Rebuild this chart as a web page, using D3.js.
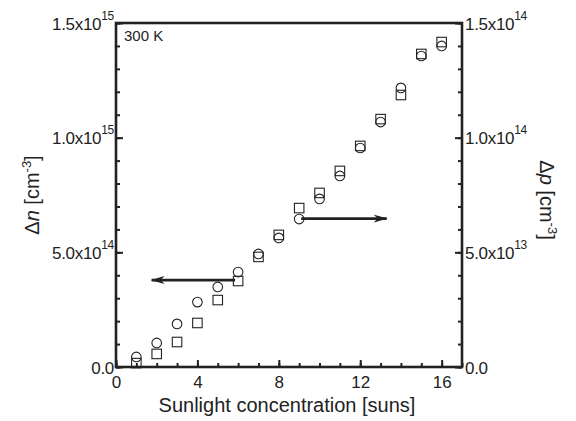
<!DOCTYPE html>
<html><head><meta charset="utf-8">
<script src="https://cdn.jsdelivr.net/npm/d3@7"></script>
<style>
body{margin:0;background:#fff;}
svg text{font-family:"Liberation Sans",Arial,sans-serif;fill:#222;}
</style></head>
<body><svg id="c" width="576" height="421"></svg>
<script>
const suns = [1,2,3,4,5,6,7,8,9,10,11,12,13,14,15,16];
const deltaN = [0.044e15,0.105e15,0.188e15,0.283e15,0.349e15,0.414e15,0.493e15,0.563e15,0.645e15,0.733e15,0.833e15,0.955e15,1.068e15,1.217e15,1.356e15,1.400e15];
const deltaP = [0.017e14,0.057e14,0.109e14,0.192e14,0.292e14,0.375e14,0.480e14,0.576e14,0.693e14,0.759e14,0.855e14,0.964e14,1.081e14,1.186e14,1.365e14,1.417e14];
const xTicks = [0,4,8,12,16];
const leftTicks = [0,0.5e15,1.0e15,1.5e15];
const rightTicks = [0,0.5e14,1.0e14,1.5e14];
const arrowLeft = {y:0.379e15, x1:5.85, x2:1.75};
const arrowRight = {y:0.647e15, x1:9.1, x2:13.3};

const svg = d3.select("#c");
const L=116, R=462, T=23, B=367;
const x = d3.scaleLinear().domain([0,17]).range([L,R]);
const yL = d3.scaleLinear().domain([0,1.5e15]).range([B,T]);
const yR = d3.scaleLinear().domain([0,1.5e14]).range([B,T]);
const ink = "#222";
const FF = "Liberation Sans, Arial, sans-serif";

svg.append("rect").attr("x",L).attr("y",T).attr("width",R-L).attr("height",B-T)
  .attr("fill","none").attr("stroke",ink).attr("stroke-width",2.6);

function sci(v){
  if(v===0) return {m:"0.0",e:null};
  const e = Math.floor(Math.log10(v)+1e-9);
  return {m:(v/Math.pow(10,e)).toFixed(1)+"x10", e:String(e)};
}
function styleAxis(g){
  g.select(".domain").remove();
  g.selectAll(".tick line").attr("stroke",ink).attr("stroke-width",2);
}
const xMinor = d3.range(0,18,1);
svg.append("g").attr("transform",`translate(0,${B})`)
  .call(d3.axisBottom(x).tickValues(xMinor).tickSize(-4).tickFormat(""))
  .call(styleAxis);
const gx = svg.append("g").attr("transform",`translate(0,${B})`)
  .call(d3.axisBottom(x).tickValues(xTicks).tickSize(-7).tickPadding(13))
  .call(styleAxis);
gx.selectAll(".tick text").attr("font-size",17).attr("fill",ink).attr("dy","0.45em")
  .attr("font-family",FF);

const yMinorL = d3.range(0,1.5e15+1,0.1e15);
svg.append("g").attr("transform",`translate(${L},0)`)
  .call(d3.axisLeft(yL).tickValues(yMinorL).tickSize(-4).tickFormat(""))
  .call(styleAxis);
const gl = svg.append("g").attr("transform",`translate(${L},0)`)
  .call(d3.axisLeft(yL).tickValues(leftTicks).tickSize(-7).tickFormat(""))
  .call(styleAxis);
gl.selectAll(".tick").each(function(d){
  const s = sci(d);
  const t = d3.select(this).append("text").attr("x",-2).attr("y",6)
    .attr("text-anchor","end").attr("font-size",17).attr("fill",ink)
    .attr("font-family",FF).attr("letter-spacing",-0.3);
  t.append("tspan").text(s.m);
  if(s.e) t.append("tspan").attr("font-size",12).attr("dy",-10).text(s.e);
});

const yMinorR = d3.range(0,1.5e14+1,0.1e14);
svg.append("g").attr("transform",`translate(${R},0)`)
  .call(d3.axisRight(yR).tickValues(yMinorR).tickSize(-4).tickFormat(""))
  .call(styleAxis);
const gr = svg.append("g").attr("transform",`translate(${R},0)`)
  .call(d3.axisRight(yR).tickValues(rightTicks).tickSize(-7).tickFormat(""))
  .call(styleAxis);
gr.selectAll(".tick").each(function(d){
  const s = sci(d);
  const t = d3.select(this).append("text").attr("x",3).attr("y",6)
    .attr("text-anchor","start").attr("font-size",17).attr("fill",ink)
    .attr("font-family",FF).attr("letter-spacing",-0.3);
  t.append("tspan").text(s.m);
  if(s.e) t.append("tspan").attr("font-size",12).attr("dy",-10).text(s.e);
});

const sq = 9.5;
svg.append("g").selectAll("rect").data(suns).join("rect")
  .attr("x",(d)=>x(d)-sq/2).attr("y",(d,i)=>yR(deltaP[i])-sq/2)
  .attr("width",sq).attr("height",sq)
  .attr("fill","none").attr("stroke",ink).attr("stroke-width",1.1);
svg.append("g").selectAll("circle").data(suns).join("circle")
  .attr("cx",(d)=>x(d)).attr("cy",(d,i)=>yL(deltaN[i])).attr("r",4.8)
  .attr("fill","none").attr("stroke",ink).attr("stroke-width",1.1);

svg.append("defs").append("marker").attr("id","ah")
  .attr("viewBox","0 0 14 10").attr("refX",13).attr("refY",5)
  .attr("markerWidth",14).attr("markerHeight",10).attr("markerUnits","userSpaceOnUse")
  .attr("orient","auto")
  .append("path").attr("d","M0,1 L14,5 L0,9 L4,5 Z").attr("fill",ink);
function arrow(a, yScale){
  svg.append("line").attr("x1",x(a.x1)).attr("x2",x(a.x2))
    .attr("y1",yScale(a.y)).attr("y2",yScale(a.y))
    .attr("stroke",ink).attr("stroke-width",2.6).attr("marker-end","url(#ah)");
}
arrow(arrowLeft, yL);
arrow(arrowRight, yL);

svg.append("text").attr("x",124).attr("y",41).attr("font-size",15).text("300 K");
svg.append("text").attr("x",(L+R)/2-2).attr("y",412).attr("text-anchor","middle")
  .attr("font-size",20).text("Sunlight concentration [suns]");
function ytitle(tx, ty, rot, letter){
  const t = svg.append("text").attr("transform",`translate(${tx},${ty}) rotate(${rot})`)
    .attr("text-anchor","middle").attr("font-size",20);
  t.append("tspan").text("\u0394");
  t.append("tspan").attr("font-style","italic").text(letter);
  t.append("tspan").text(" [cm");
  t.append("tspan").attr("font-size",13).attr("dy",-8).text("-3");
  t.append("tspan").attr("dy",8).text("]");
}
ytitle(39, 195, -90, "n");
ytitle(540, 200, 90, "p");
</script></body></html>
